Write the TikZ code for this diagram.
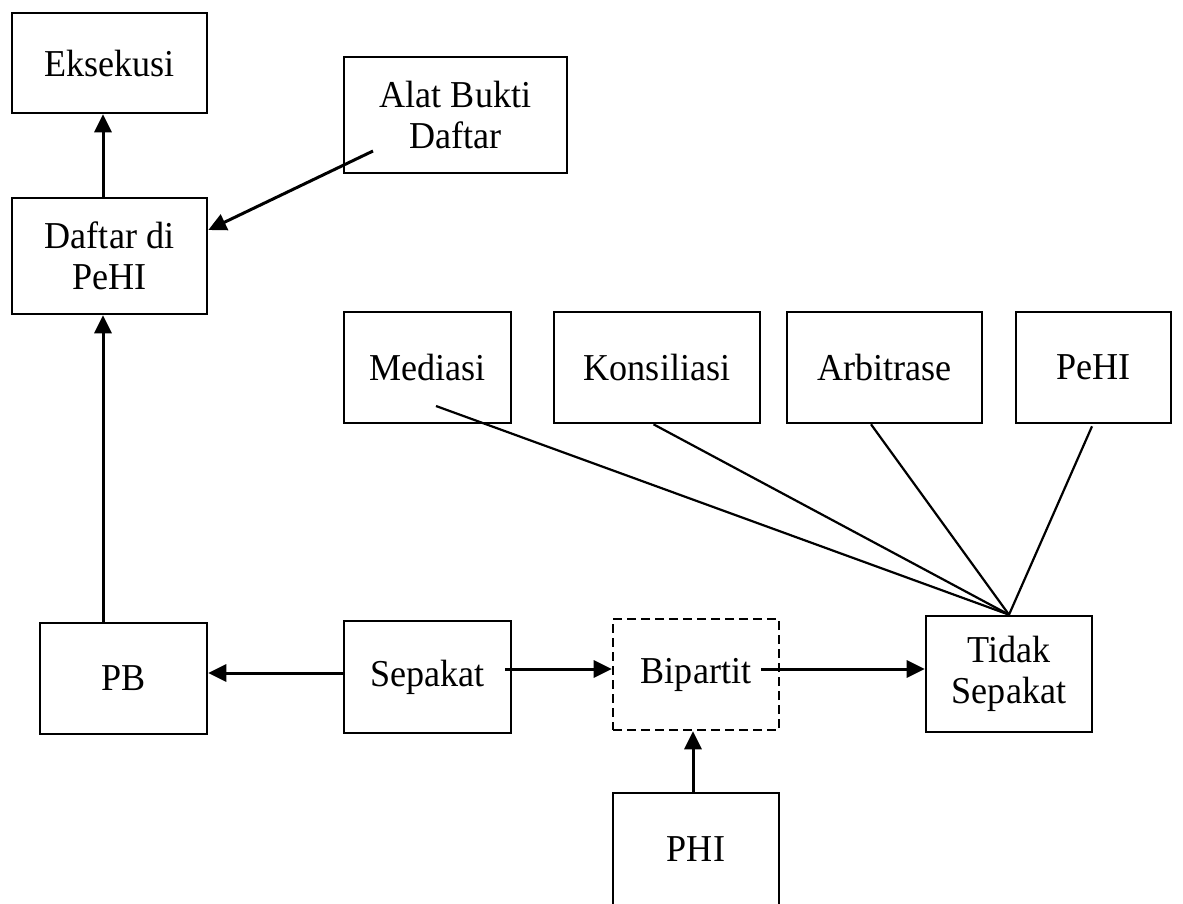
\documentclass[tikz,border=0pt]{standalone}
\usepackage{fontspec}
\setmainfont[FakeStretch=0.95]{Liberation Serif}
\usetikzlibrary{arrows.meta}
\begin{document}
\begin{tikzpicture}[x=1pt,y=-1pt,
  box/.style={draw, line width=2.6pt, inner sep=0pt, align=center, font=\fontsize{38}{41}\selectfont},
  dbox/.style={box, dash pattern=on 9pt off 5pt},
  arr/.style={line width=3pt, -{Triangle[length=18pt,width=17pt]}},
  ln/.style={line width=2.2pt}]
\useasboundingbox (0,0) rectangle (1183,903);
% top left column
\node[box, minimum width=195pt, minimum height=100pt] (eks) at (109.5,63) {Eksekusi};
\node[box, minimum width=223pt, minimum height=116pt] (alat) at (455.5,115) {Alat Bukti\\Daftar};
\node[box, minimum width=195pt, minimum height=116pt] (daf) at (109.5,256) {Daftar di\\PeHI};
% upper row
\node[box, minimum width=167pt, minimum height=111pt] (med) at (427.5,367.5) {Mediasi};
\node[box, minimum width=206pt, minimum height=111pt] (kon) at (657,367.5) {Konsiliasi};
\node[box, minimum width=195pt, minimum height=111pt] (arb) at (884.5,367.5) {Arbitrase};
\node[box, minimum width=155pt, minimum height=111pt] (pehi) at (1093.5,367.5) {PeHI};
% lower row
\node[box, minimum width=167pt, minimum height=111pt] (pb) at (123.5,678.5) {PB};
\node[box, minimum width=167pt, minimum height=112pt] (sep) at (427.5,677) {Sepakat};
\node[dbox, minimum width=166pt, minimum height=111pt] (bip) at (696,674.5) {Bipartit};
\node[box, minimum width=166pt, minimum height=116pt] (tid) at (1009,674) {Tidak\\Sepakat};
\node[box, minimum width=166pt, minimum height=112pt] (phi) at (696,849) {PHI};
% free ends
\coordinate (alatS) at (373,151);
\coordinate (medS) at (436,406);
\coordinate (sepR) at (505,669);
\coordinate (bipR) at (761,669);
% arrows
\draw[arr] ([xshift=-6.5pt]daf.north) -- ([xshift=-6.5pt]eks.south);
\draw[arr] ([xshift=-20.5pt]pb.north) -- ([xshift=-6.5pt]daf.south);
\draw[arr] (alatS) -- ([yshift=26pt]daf.east);
\draw[arr] ([yshift=4pt]sep.west) -- ([yshift=5.5pt]pb.east);
\draw[arr] (sepR) -- ([yshift=5.5pt]bip.west);
\draw[arr] (bipR) -- ([yshift=5pt]tid.west);
\draw[arr] ([xshift=-3pt]phi.north) -- ([xshift=-3pt]bip.south);
% converging lines
\draw[ln] (medS) -- (tid.north);
\draw[ln] ([xshift=-3.5pt]kon.south) -- (tid.north);
\draw[ln] ([xshift=-13.5pt]arb.south) -- (tid.north);
\draw[ln] ([xshift=-1.5pt,yshift=-2pt]pehi.south) -- (tid.north);
\end{tikzpicture}
\end{document}
